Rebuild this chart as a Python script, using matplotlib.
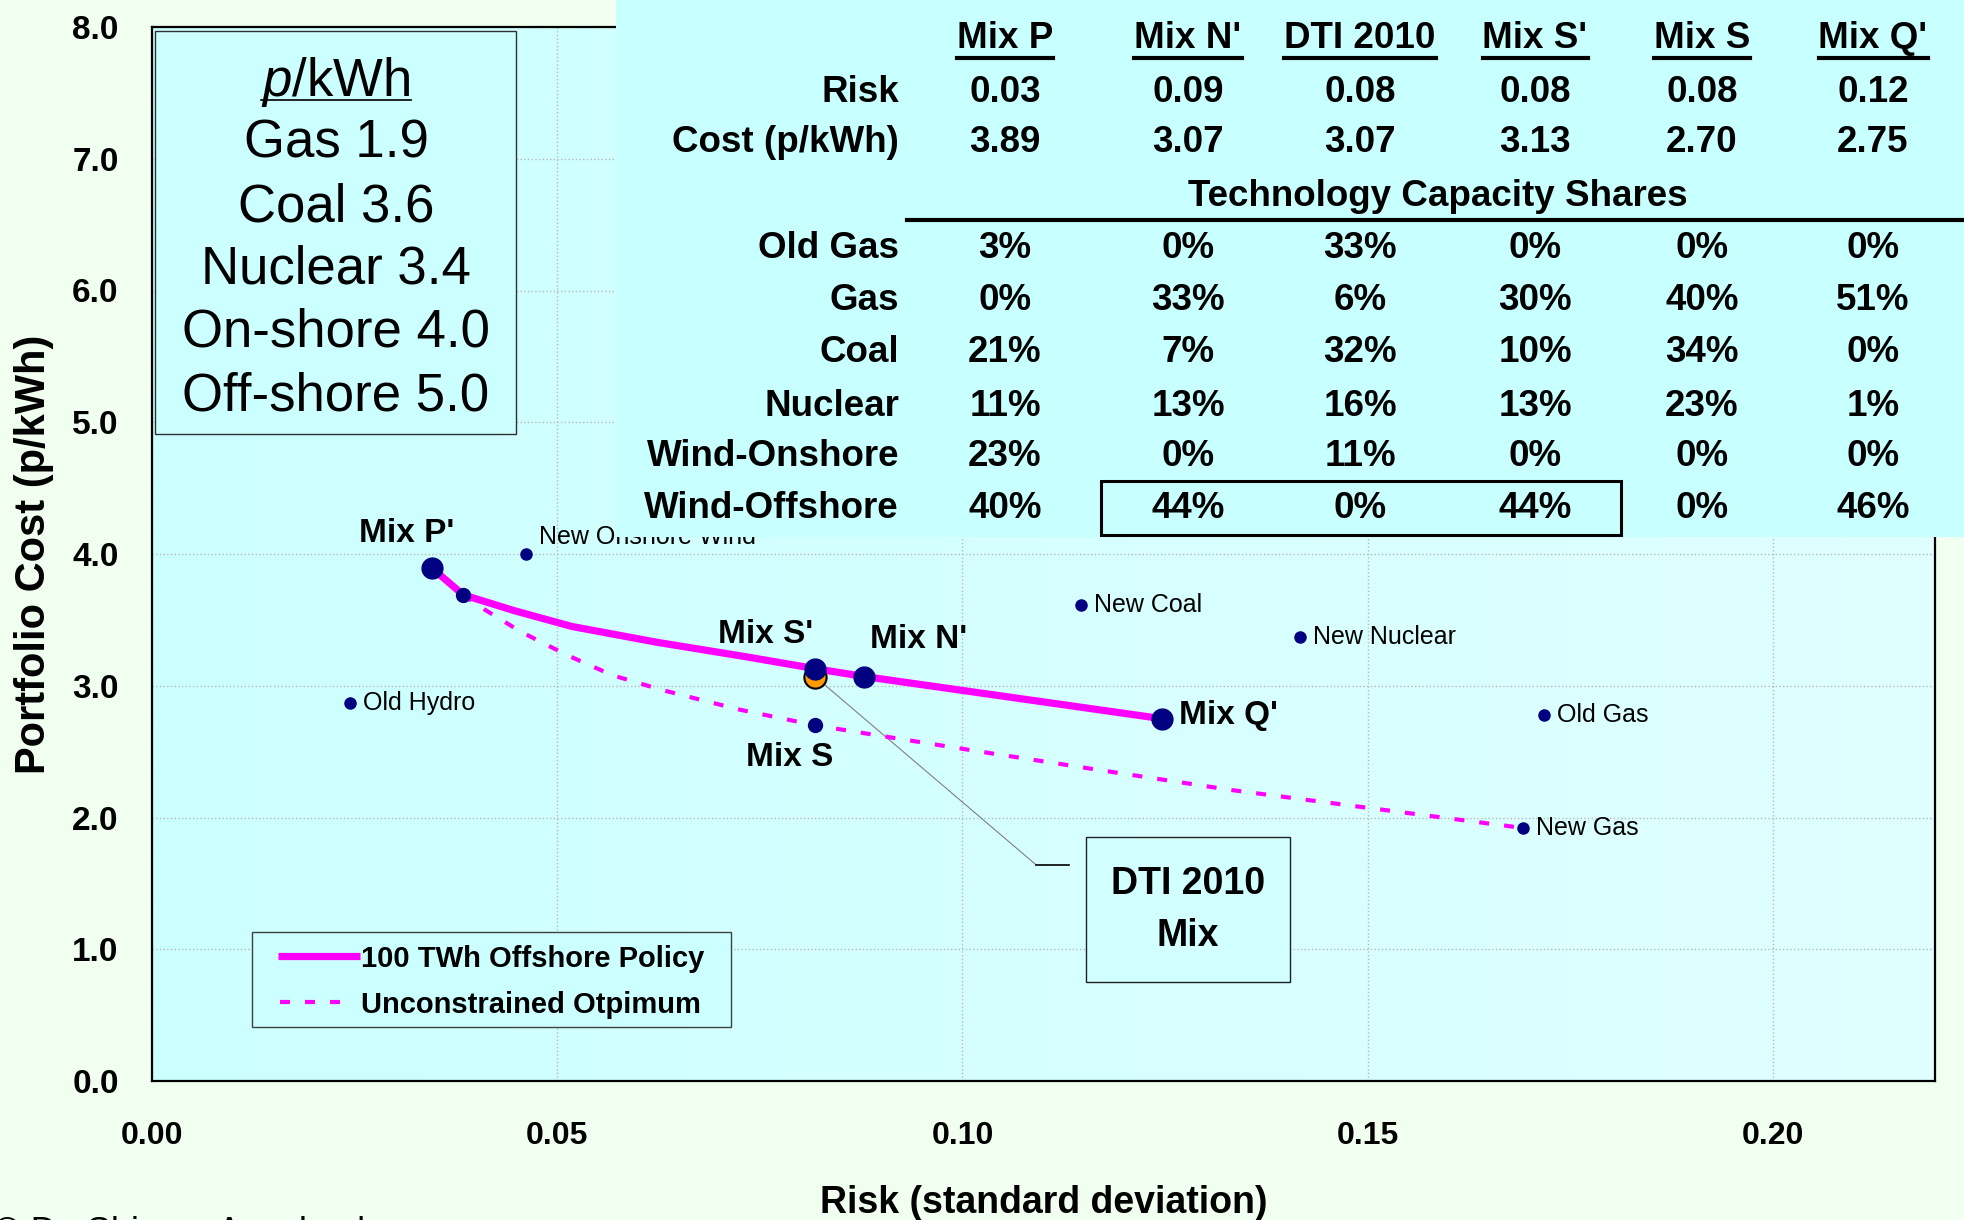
import matplotlib

matplotlib.use("Agg")

import matplotlib.pyplot as plt
import numpy as np
from matplotlib.colors import LinearSegmentedColormap
from matplotlib.lines import Line2D
from matplotlib.patches import Rectangle
from matplotlib.ticker import FormatStrFormatter

plt.rcParams["font.family"] = ["Liberation Sans", "DejaVu Sans"]
plt.rcParams["mathtext.fontset"] = "custom"
plt.rcParams["mathtext.rm"] = "Liberation Sans"
plt.rcParams["mathtext.it"] = "Liberation Sans:italic"

W, H = 1964, 1220
AX_L, AX_R, AX_T, AX_B = 152, 1935, 27, 1081

# efficient frontiers (risk = std dev, cost in p/kWh)
policy_risk = [0.0346, 0.0384, 0.0447, 0.0518, 0.0623, 0.0733, 0.0818, 0.0879, 0.1246]
policy_cost = [3.89, 3.69, 3.57, 3.45, 3.33, 3.22, 3.13, 3.07, 2.75]
unconstr_risk = [0.0384, 0.0410, 0.0455, 0.0513, 0.0568, 0.0628, 0.0724, 0.0818,
                 0.0909, 0.1022, 0.1180, 0.1330, 0.1517, 0.1692]
unconstr_cost = [3.69, 3.58, 3.41, 3.23, 3.08, 2.97, 2.82, 2.70,
                 2.61, 2.50, 2.35, 2.21, 2.06, 1.92]

# named portfolio mixes on the policy frontier
mix_names = ["Mix P'", "Mix S'", "Mix N'", "Mix Q'"]
mix_risk = [0.0346, 0.0818, 0.0879, 0.1246]
mix_cost = [3.89, 3.13, 3.07, 2.75]
mix_s_risk, mix_s_cost = 0.0818, 2.70
dti_risk, dti_cost = 0.0818, 3.07
knee_risk, knee_cost = 0.0384, 3.69

# single technologies
tech_names = ["New Onshore Wind", "Old Hydro", "New Coal", "New Nuclear", "Old Gas", "New Gas"]
tech_risk = [0.0461, 0.0244, 0.1146, 0.1417, 0.1718, 0.1692]
tech_cost = [4.00, 2.87, 3.61, 3.37, 2.78, 1.92]

# price box
price_techs = ["Gas", "Coal", "Nuclear", "On-shore", "Off-shore"]
price_values = [1.9, 3.6, 3.4, 4.0, 5.0]

# table
table_mixes = ["Mix P", "Mix N'", "DTI 2010", "Mix S'", "Mix S", "Mix Q'"]
table_risk = [0.03, 0.09, 0.08, 0.08, 0.08, 0.12]
table_cost = [3.89, 3.07, 3.07, 3.13, 2.70, 2.75]
share_rows = ["Old Gas", "Gas", "Coal", "Nuclear", "Wind-Onshore", "Wind-Offshore"]
share_old_gas = [3, 0, 33, 0, 0, 0]
share_gas = [0, 33, 6, 30, 40, 51]
share_coal = [21, 7, 32, 10, 34, 0]
share_nuclear = [11, 13, 16, 13, 23, 1]
share_onshore = [23, 0, 11, 0, 0, 0]
share_offshore = [40, 44, 0, 44, 0, 46]

NAVY = "#000080"
MAGENTA = "#FF00FF"


def fx(px: float) -> float:
    return px / W


def fy(py: float) -> float:
    return 1.0 - py / H


def axx(px: float) -> float:
    return (px - AX_L) / (AX_R - AX_L)


def axy(py: float) -> float:
    return (AX_B - py) / (AX_B - AX_T)


def underline(fig, text, y_px: float, lw: float) -> None:
    renderer = fig.canvas.get_renderer()
    box = text.get_window_extent(renderer)
    fig.add_artist(Line2D([box.x0 / W, box.x1 / W], [fy(y_px), fy(y_px)],
                          transform=fig.transFigure, color="black", lw=lw, zorder=4))


fig = plt.figure(figsize=(W / 100, H / 100), dpi=100, facecolor="#F0FFF0")
ax = fig.add_axes([fx(AX_L), fy(AX_B), fx(AX_R) - fx(AX_L), fy(AX_T) - fy(AX_B)])

grad = np.linspace(0, 1, 256).reshape(1, -1)
bg = LinearSegmentedColormap.from_list("bg", ["#CCFFFF", "#E0FFFF"])
ax.imshow(grad, cmap=bg, extent=[0, 1, 0, 1], transform=ax.transAxes,
          aspect="auto", zorder=-10)

solid_style = dict(color=MAGENTA, lw=5.2, solid_capstyle="butt")
dash_style = dict(color=MAGENTA, lw=3, dashes=(2.4, 3.6))
ax.plot(policy_risk, policy_cost, zorder=3, **solid_style)
ax.plot(unconstr_risk, unconstr_cost, zorder=3, **dash_style)

# DTI leader line
ax.plot([dti_risk, 0.1091], [dti_cost, 1.64], color="#808080", lw=0.8, zorder=2)
ax.plot([0.1091, 0.1131], [1.64, 1.64], color="black", lw=1.2, zorder=2)

ax.plot(dti_risk, dti_cost, "o", ms=16, mfc="#FF9900", mec="black", mew=1.5, zorder=4)
ax.plot(mix_risk, mix_cost, "o", ms=15, color=NAVY, ls="none", zorder=5)
ax.plot([knee_risk, mix_s_risk], [knee_cost, mix_s_cost], "o", ms=10, color=NAVY,
        ls="none", zorder=5)
ax.plot(tech_risk, tech_cost, "o", ms=8, color=NAVY, ls="none", zorder=5)

mix_offsets = [(-26, 35, "center"), (-49, 34, "center"), (6, 37, "left"), (17, 3, "left")]
for name, x, y, (dx, dy, ha) in zip(mix_names, mix_risk, mix_cost, mix_offsets):
    ax.annotate(name, (x, y), xytext=(dx, dy), textcoords="offset pixels",
                ha=ha, va="center", fontsize=24, fontweight="bold", zorder=6)
ax.annotate("Mix S", (mix_s_risk, mix_s_cost), xytext=(-25, -32), textcoords="offset pixels",
            ha="center", va="center", fontsize=24, fontweight="bold", zorder=6)

for name, x, y in zip(tech_names, tech_risk, tech_cost):
    dy = 17 if name == "New Onshore Wind" else 0
    ax.annotate(name, (x, y), xytext=(13, dy), textcoords="offset pixels",
                ha="left", va="center", fontsize=18, zorder=6)

# DTI 2010 callout box
ax.add_patch(Rectangle((axx(1086), axy(982)), axx(1290) - axx(1086), axy(837) - axy(982),
                       transform=ax.transAxes, fc="#D2FFFF", ec="#202020", lw=1, zorder=6))
ax.text(axx(1188), axy(884), "DTI 2010", transform=ax.transAxes, ha="center",
        va="center", fontsize=27, fontweight="bold", zorder=7)
ax.text(axx(1188), axy(936), "Mix", transform=ax.transAxes, ha="center",
        va="center", fontsize=27, fontweight="bold", zorder=7)

# legend box
ax.add_patch(Rectangle((axx(252), axy(1027)), axx(731) - axx(252), axy(932) - axy(1027),
                       transform=ax.transAxes, fc="#CCFFFF", ec="#404040", lw=1, zorder=6))
ax.add_line(Line2D([axx(278), axx(360)], [axy(956), axy(956)], transform=ax.transAxes,
                   zorder=7, **solid_style))
ax.add_line(Line2D([axx(280), axx(341)], [axy(1002), axy(1002)], transform=ax.transAxes,
                   zorder=7, **dash_style))
ax.text(axx(361), axy(959), "100 TWh Offshore Policy", transform=ax.transAxes,
        ha="left", va="center", fontsize=21, fontweight="bold", zorder=7)
ax.text(axx(361), axy(1005), "Unconstrained Otpimum", transform=ax.transAxes,
        ha="left", va="center", fontsize=21, fontweight="bold", zorder=7)

ax.set_xlim(0, 0.22)
ax.set_ylim(0, 8)
ax.set_xticks(np.arange(0, 0.201, 0.05))
ax.set_yticks(np.arange(0, 8.01, 1.0))
ax.xaxis.set_major_formatter(FormatStrFormatter("%.2f"))
ax.yaxis.set_major_formatter(FormatStrFormatter("%.1f"))
ax.tick_params(axis="x", length=0, pad=29, labelsize=23)
ax.tick_params(axis="y", length=0, pad=24, labelsize=24)
for lab in ax.get_xticklabels() + ax.get_yticklabels():
    lab.set_fontweight("bold")
ax.grid(True, color="#B8B8B8", linestyle=":", linewidth=1)
ax.set_axisbelow(True)
for spine in ax.spines.values():
    spine.set_linewidth(1.6)
    spine.set_color("black")

ax.set_xlabel("Risk (standard deviation)", fontsize=27, fontweight="bold")
ax.xaxis.set_label_coords(0.5, -0.116)
ax.xaxis.label.set_va("center")
ax.set_ylabel("Portfolio Cost (p/kWh)", fontsize=30, fontweight="bold")
ax.yaxis.set_label_coords(-0.066, 0.5)
ax.yaxis.label.set_va("center")

# price box on the left
fig.add_artist(Rectangle((fx(155), fy(434)), fx(516) - fx(155), fy(31) - fy(434),
                         transform=fig.transFigure, fc="#CCFFFF", ec="#303030", lw=1, zorder=2))
unit = fig.text(fx(336), fy(82), r"$\mathit{p}$/kWh", ha="center", va="center",
                fontsize=38, zorder=3)
price_y = [144, 207, 270, 333, 397]
for tech, val, y in zip(price_techs, price_values, price_y):
    fig.text(fx(336), fy(y), f"{tech} {val:.1f}", ha="center", va="center",
             fontsize=38, zorder=3)

# table in the upper right
fig.add_artist(Rectangle((fx(616), fy(537)), 1 - fx(616), fy(0) - fy(537),
                         transform=fig.transFigure, fc="#C8FFFF", ec="none", zorder=2))
col_x = [1005, 1188, 1360, 1535, 1702, 1873]
label_right = 899
tsize = 26.5
headers = []
for name, x in zip(table_mixes, col_x):
    headers.append(fig.text(fx(x), fy(39), name, ha="center", va="center",
                            fontsize=tsize, fontweight="bold", zorder=3))

fig.text(fx(label_right), fy(92), "Risk", ha="right", va="center",
         fontsize=tsize, fontweight="bold", zorder=3)
fig.text(fx(label_right), fy(143), "Cost (p/kWh)", ha="right", va="center",
         fontsize=tsize, fontweight="bold", zorder=3)
for x, r, c in zip(col_x, table_risk, table_cost):
    fig.text(fx(x), fy(92), f"{r:.2f}", ha="center", va="center",
             fontsize=tsize, fontweight="bold", zorder=3)
    fig.text(fx(x), fy(143), f"{c:.2f}", ha="center", va="center",
             fontsize=tsize, fontweight="bold", zorder=3)

fig.text(fx(1438), fy(197), "Technology Capacity Shares", ha="center", va="center",
         fontsize=tsize, fontweight="bold", zorder=3)
fig.add_artist(Line2D([fx(907), 1.0], [fy(220), fy(220)], transform=fig.transFigure,
                      color="black", lw=3, zorder=4))

share_table = [share_old_gas, share_gas, share_coal, share_nuclear, share_onshore, share_offshore]
row_y = [248, 301, 352, 406, 457, 509]
for name, vals, y in zip(share_rows, share_table, row_y):
    fig.text(fx(label_right), fy(y), name, ha="right", va="center",
             fontsize=tsize, fontweight="bold", zorder=3)
    for x, v in zip(col_x, vals):
        fig.text(fx(x), fy(y), f"{v}%", ha="center", va="center",
                 fontsize=tsize, fontweight="bold", zorder=3)

fig.add_artist(Rectangle((fx(1101), fy(535)), fx(1621) - fx(1101), fy(481) - fy(535),
                         transform=fig.transFigure, fc="none", ec="black", lw=2.2, zorder=4))

fig.text(-0.003, fy(1216), "\u00a9 Dr. Shimon Awerbuch", ha="left", va="top", fontsize=26)

fig.canvas.draw()
for t in headers:
    underline(fig, t, 58, 3)
underline(fig, unit, 100, 1.2)

fig.savefig("out.png", dpi=100, facecolor=fig.get_facecolor())
plt.close(fig)
